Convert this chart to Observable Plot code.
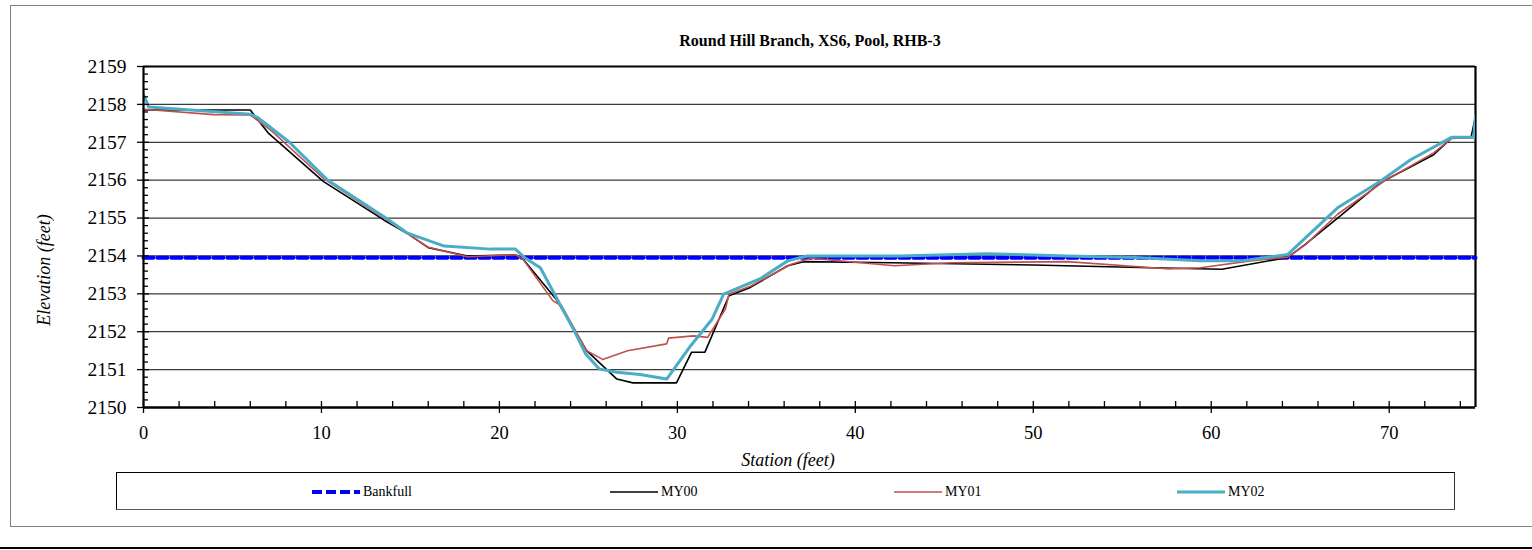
<!DOCTYPE html>
<html>
<head>
<meta charset="utf-8">
<script src="https://cdn.jsdelivr.net/npm/d3@7"></script>
<script src="https://cdn.jsdelivr.net/npm/@observablehq/plot@0.6"></script>
<style>
  body { margin: 0; background: #fff; font-family: "Liberation Serif", "DejaVu Serif", serif; }
  #wrap { position: relative; width: 1532px; height: 550px; overflow: hidden; }
  #frame { position: absolute; left: 10px; top: 5px; width: 1540px; height: 522px; border: 1.5px solid #808080; box-sizing: border-box; }
  #rule { position: absolute; left: 0; top: 547px; width: 1532px; border-top: 2px solid #000; }
  #title { position: absolute; left: 0; width: 1620px; top: 33px; text-align: center; font-weight: bold; font-size: 16px; line-height: 1; }
  #chart { position: absolute; left: 0; top: 0; }
  #ylabel { position: absolute; left: 44px; top: 270px; transform: translate(-50%, -50%) rotate(-90deg); font-style: italic; font-size: 18px; line-height: 1; white-space: nowrap; }
  #xlabel { position: absolute; left: 0; width: 1576px; top: 451px; text-align: center; font-style: italic; font-size: 18px; line-height: 1; }
  #legend { position: absolute; left: 116px; top: 472px; width: 1339px; height: 38px; border: 1px solid #000; border-right-color: #333; border-bottom: 1.5px solid #555; box-sizing: border-box; }
  .item { position: absolute; top: 9px; height: 20px; display: flex; align-items: center; font-size: 14px; }
  .item svg { display: block; margin-right: 3px; }
</style>
</head>
<body>
<div id="wrap">
  <div id="frame"></div>
  <div id="rule"></div>
  <div id="title">Round Hill Branch, XS6, Pool, RHB-3</div>
  <div id="chart"></div>
  <div id="ylabel">Elevation (feet)</div>
  <div id="xlabel">Station (feet)</div>
  <div id="legend"></div>
</div>
<script>
// Cross-section survey, Round Hill Branch XS6 (pool). Station and elevation in feet.
const bankfullStation = [0, 74.85];
const bankfullElev = [2153.95, 2153.95];

const my00Station = [0, 6.0, 7.0, 10.1, 13.5, 14.8, 16.0, 18.2, 20.9, 21.3, 23.2, 24.9, 26.6, 27.5, 29.95, 30.8, 31.55, 32.9, 34.1, 36.2, 37.1, 42.0, 50.0, 56.6, 60.6, 64.3, 65.3, 67.1, 69.5, 72.5, 73.5, 74.6, 74.85];
const my00Elev = [2157.85, 2157.85, 2157.25, 2155.97, 2154.95, 2154.6, 2154.22, 2154.0, 2154.03, 2153.93, 2152.85, 2151.5, 2150.75, 2150.65, 2150.65, 2151.46, 2151.46, 2152.95, 2153.17, 2153.74, 2153.85, 2153.82, 2153.76, 2153.69, 2153.65, 2153.96, 2154.31, 2155.0, 2155.93, 2156.67, 2157.11, 2157.13, 2157.68];

const my01Station = [0, 3.95, 6.0, 7.2, 10.1, 13.5, 14.6, 16.0, 18.2, 20.9, 21.3, 23.0, 23.5, 24.9, 25.8, 27.2, 29.4, 29.5, 30.9, 31.7, 32.7, 32.9, 34.1, 36.4, 37.5, 42.2, 45.4, 51.9, 57.5, 59.4, 62.2, 64.3, 65.3, 67.1, 69.7, 72.5, 73.5, 74.85];
const my01Elev = [2157.87, 2157.73, 2157.72, 2157.3, 2156.05, 2155.0, 2154.66, 2154.23, 2153.98, 2154.03, 2153.93, 2152.82, 2152.68, 2151.5, 2151.27, 2151.5, 2151.68, 2151.83, 2151.89, 2151.85, 2152.6, 2152.99, 2153.2, 2153.78, 2153.94, 2153.74, 2153.82, 2153.85, 2153.66, 2153.69, 2153.87, 2153.97, 2154.3, 2155.1, 2155.97, 2156.72, 2157.1, 2157.13];

const my02Station = [0, 0.3, 6.0, 6.4, 8.2, 10.3, 13.6, 14.8, 16.9, 19.5, 20.9, 21.4, 22.3, 24.2, 24.85, 25.6, 26.6, 27.9, 29.4, 30.75, 31.95, 32.6, 34.7, 36.2, 37.3, 42.5, 47.4, 51.9, 55.7, 59.4, 61.7, 64.3, 67.1, 69.5, 71.2, 73.5, 74.75, 74.85];
const my02Elev = [2158.25, 2157.93, 2157.74, 2157.66, 2157.0, 2156.02, 2155.01, 2154.61, 2154.26, 2154.18, 2154.18, 2153.96, 2153.69, 2152.03, 2151.41, 2151.02, 2150.93, 2150.87, 2150.75, 2151.63, 2152.33, 2152.99, 2153.41, 2153.87, 2154.0, 2154.0, 2154.06, 2154.0, 2153.96, 2153.87, 2153.87, 2154.04, 2155.27, 2155.97, 2156.54, 2157.13, 2157.13, 2157.71];

const xTicks = [0, 10, 20, 30, 40, 50, 60, 70];
const yTicks = [2150, 2151, 2152, 2153, 2154, 2155, 2156, 2157, 2158, 2159];

const seriesNames = ["Bankfull", "MY00", "MY01", "MY02"];
const seriesColors = ["#0000ff", "#000000", "#c0504d", "#4bacc6"];

const xMax = 74.85;
const yMin = 2150, yMax = 2159;

const toRows = (stations, elevs) => stations.map((s, i) => ({station: s, elev: elevs[i]}));
const bankfull = toRows(bankfullStation, bankfullElev);
const my00 = toRows(my00Station, my00Elev);
const my01 = toRows(my01Station, my01Elev);
const my02 = toRows(my02Station, my02Elev);

const xMinor = d3.range(0, xMax, 2).filter(v => v % 10 !== 0);
const yMinor = d3.range(yMin, yMax + 0.001, 0.2).map(v => +v.toFixed(1)).filter(v => Math.abs(v - Math.round(v)) > 0.01);
const gridLevels = yTicks.filter(v => v > yMin && v < yMax);

const blank = () => "";

const chart = Plot.plot({
  width: 1532,
  height: 475,
  marginTop: 66,
  marginRight: 57,
  marginBottom: 68,
  marginLeft: 143,
  style: {fontFamily: "'Liberation Serif', 'DejaVu Serif', serif", fontSize: "19px", overflow: "visible", background: "transparent"},
  x: {domain: [0, xMax]},
  y: {domain: [yMin, yMax]},
  marks: [
    Plot.ruleY(gridLevels, {stroke: "#3a3a3a", strokeWidth: 1.2}),
    Plot.ruleY([yMax], {stroke: "#000", strokeWidth: 2.2}),
    Plot.ruleX([xMax], {stroke: "#000", strokeWidth: 2.2}),
    Plot.line(bankfull, {x: "station", y: "elev", stroke: seriesColors[0], strokeWidth: 4, strokeDasharray: "10,4"}),
    Plot.line(my00, {x: "station", y: "elev", stroke: seriesColors[1], strokeWidth: 1.6, clip: true}),
    Plot.line(my01, {x: "station", y: "elev", stroke: seriesColors[2], strokeWidth: 1.6, clip: true}),
    Plot.line(my02, {x: "station", y: "elev", stroke: seriesColors[3], strokeWidth: 3, clip: true}),
    Plot.ruleX([0], {stroke: "#000", strokeWidth: 2.2}),
    Plot.ruleY([yMin], {stroke: "#000", strokeWidth: 2.5}),
    // y axis: crossing major ticks, inward minor ticks, labels
    Plot.axisY(yTicks, {tickSize: 12, dx: 6, tickFormat: blank, label: null, strokeWidth: 1.3}),
    Plot.axisY(yMinor, {tickSize: 5, dx: 5, tickFormat: blank, label: null, strokeWidth: 1.3}),
    Plot.axisY(yTicks, {tickSize: 0, tickPadding: 17, tickFormat: d => String(d), label: null, fontSize: 19.5, fill: "#000"}),
    // x axis
    Plot.axisX(xTicks, {tickSize: 12, dy: -6, tickFormat: blank, label: null, strokeWidth: 1.3}),
    Plot.axisX(xMinor, {tickSize: 6, dy: -6, tickFormat: blank, label: null, strokeWidth: 1.3}),
    Plot.axisX(xTicks, {tickSize: 0, tickPadding: 18, tickFormat: d => String(d), label: null, fontSize: 18.5, fill: "#000"})
  ]
});
document.getElementById("chart").appendChild(chart);

// Legend with line swatches
const legendLefts = [195, 493, 777, 1060];
const legend = document.getElementById("legend");
seriesNames.forEach((name, i) => {
  const item = document.createElement("div");
  item.className = "item";
  item.style.left = legendLefts[i] + "px";
  const w = 48;
  const dash = i === 0 ? 'stroke-dasharray="10,4"' : "";
  const sw = i === 0 ? 4 : i === 3 ? 3 : 1.6;
  item.innerHTML = `<svg width="${w}" height="10"><line x1="0" x2="${w}" y1="5" y2="5" stroke="${seriesColors[i]}" stroke-width="${sw}" ${dash}/></svg><span>${name}</span>`;
  legend.appendChild(item);
});
</script>
</body>
</html>
